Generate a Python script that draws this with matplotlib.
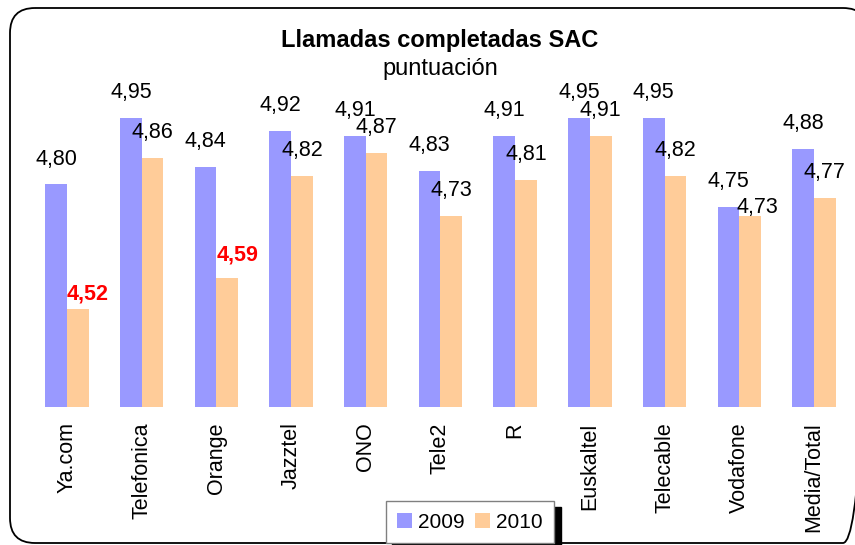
import matplotlib
matplotlib.use("Agg")
import matplotlib.pyplot as plt
from matplotlib.patches import FancyBboxPatch
import numpy as np

plt.rcParams['font.family'] = ['Liberation Sans', 'DejaVu Sans']

categories = ['Ya.com', 'Telefonica', 'Orange', 'Jazztel', 'ONO', 'Tele2', 'R',
              'Euskaltel', 'Telecable', 'Vodafone', 'Media/Total']
v2009 = [4.80, 4.95, 4.84, 4.92, 4.91, 4.83, 4.91, 4.95, 4.95, 4.75, 4.88]
v2010 = [4.52, 4.86, 4.59, 4.82, 4.87, 4.73, 4.81, 4.91, 4.82, 4.73, 4.77]
highlight_2010 = ['Ya.com', 'Orange']

# hand-placed 2010 labels in the original (pixel offsets dx, gap above bar)
label_shift_2010 = {'Ya.com': (10, 10), 'Orange': (10, 17), 'Vodafone': (7, 3)}

W, H = 855, 545
fig = plt.figure(figsize=(W / 100, H / 100), dpi=100)

# background axes in pixel units for the rounded outer frame
bg = fig.add_axes([0, 0, 1, 1], zorder=-1)
bg.set_xlim(0, W)
bg.set_ylim(H, 0)
bg.axis('off')
frame = FancyBboxPatch((10, 8), 858, 535,
                       boxstyle="round,pad=0,rounding_size=25",
                       facecolor='none', edgecolor='black', linewidth=1.3,
                       clip_on=False)
bg.add_patch(frame)

ax = fig.add_axes([29.6 / W, 138 / H, 821.7 / W, 356 / H])
ax.set_facecolor('none')

x = np.arange(len(categories))
w = 0.29
b1 = ax.bar(x - w / 2, [v - 4.3 for v in v2009], w, bottom=4.3,
            color='#9999FF', label='2009')
b2 = ax.bar(x + w / 2, [v - 4.3 for v in v2010], w, bottom=4.3,
            color='#FFCC99', label='2010')

ax.set_xlim(-0.5, len(categories) - 0.5)
ax.set_ylim(4.3, 5.1)

for i, v in enumerate(v2009):
    ax.annotate(f"{v:.2f}".replace('.', ','), (x[i] - w / 2, v),
                xytext=(0, 20), textcoords='offset pixels',
                ha='center', va='baseline', fontsize=15.5)
for i, v in enumerate(v2010):
    red = categories[i] in highlight_2010
    dx, dy = label_shift_2010.get(categories[i], (0, 20))
    ax.annotate(f"{v:.2f}".replace('.', ','), (x[i] + w / 2, v),
                xytext=(dx, dy), textcoords='offset pixels',
                ha='center', va='baseline', fontsize=15.5,
                color='#FF0000' if red else 'black',
                fontweight='bold' if red else 'normal')

ax.set_xticks(x)
ax.set_xticklabels(categories, rotation=90, fontsize=15.5)
ax.tick_params(axis='x', length=0, pad=11)
ax.set_yticks([])
for s in ax.spines.values():
    s.set_visible(False)

fig.text(440 / W, 1 - 47 / H, 'Llamadas completadas SAC', ha='center',
         va='baseline', fontsize=17, fontweight='bold')
fig.text(440 / W, 1 - 75 / H, 'puntuación', ha='center', va='baseline',
         fontsize=17)

leg = fig.legend(handles=[b1, b2], labels=['2009', '2010'],
                 loc='lower left', bbox_to_anchor=(386 / W, 1 - 543 / H),
                 ncol=2, fontsize=15, frameon=True, fancybox=False,
                 shadow={'ox': 4.5, 'oy': -4.5, 'color': 'black', 'alpha': 1},
                 handlelength=0.7, handleheight=0.7, handletextpad=0.3,
                 columnspacing=0.5, borderpad=0.55, borderaxespad=0)
leg.get_frame().set_edgecolor('#808080')
leg.get_frame().set_linewidth(1.0)

fig.savefig('out.png', dpi=100)
